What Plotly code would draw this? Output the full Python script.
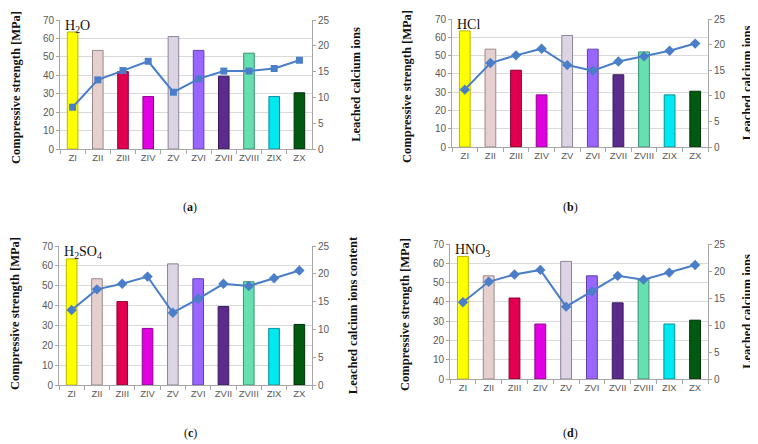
import plotly.graph_objects as go

categories = ["ZI", "ZII", "ZIII", "ZIV", "ZV", "ZVI", "ZVII", "ZVIII", "ZIX", "ZX"]
strength = [63.5, 53.5, 42, 28.5, 61, 53.5, 39.5, 52, 28.5, 30.5]
bar_colors = ["#FFFF00", "#E6CFCF", "#E0004F", "#E000E0", "#DCD4E4",
              "#9966FF", "#5B2C8C", "#66E0B0", "#00E8F0", "#005A10"]
bar_edges = ["#B8B800", "#9C8888", "#900030", "#900090", "#8C8494",
             "#6040B0", "#3A1A5C", "#3A9070", "#009098", "#003008"]

ions_h2o = [8.1, 13.4, 15.2, 17.0, 11.0, 13.6, 15.1, 15.1, 15.6, 17.2]
ions_hcl = [11.2, 16.4, 17.9, 19.2, 16.0, 14.9, 16.7, 17.7, 18.8, 20.2]
ions_h2so4 = [13.5, 17.2, 18.2, 19.5, 13.0, 15.5, 18.2, 17.8, 19.2, 20.6]
ions_hno3 = [14.2, 18.0, 19.35, 20.2, 13.4, 16.2, 19.1, 18.4, 19.7, 21.1]

# page body has an 8px margin; the figure is sized to fill the remaining window
OFF = 8
W, H = 758 - OFF, 444 - OFF


def px(x):
    return (x - OFF) / W


def py(y):
    return 1 - (y - OFF) / H


panels = [
    dict(ions=ions_h2o, label="H<sub>2</sub>O", sub="(<b>a</b>)", symbol="square",
         right_title="Leached calcium ions", rs=22,
         xd=[px(60), px(312)], yd=[py(149), py(20)],
         lt=(16, 88), st=(190, 207)),
    dict(ions=ions_hcl, label="HCl", sub="(<b>b</b>)", symbol="diamond",
         right_title="Leached calcium ions", rs=17,
         xd=[px(452), px(708)], yd=[py(147), py(19)],
         lt=(407, 87), st=(570, 207)),
    dict(ions=ions_h2so4, label="H<sub>2</sub>SO<sub>4</sub>", sub="(<b>c</b>)", symbol="diamond",
         right_title="Leached calcium ions content", rs=19,
         xd=[px(59), px(312)], yd=[py(385), py(246)],
         lt=(15, 314), st=(190, 433)),
    dict(ions=ions_hno3, label="HNO<sub>3</sub>", sub="(<b>d</b>)", symbol="diamond",
         right_title="Leached calcium ions", rs=17,
         xd=[px(450), px(708)], yd=[py(379), py(244)],
         lt=(405, 315), st=(570, 433)),
]

fig = go.Figure()
layout = dict(width=W, height=H, margin=dict(l=0, r=0, t=0, b=0, autoexpand=False),
              paper_bgcolor="white", plot_bgcolor="white", showlegend=False,
              template="none")
annotations = []
tickfont = dict(family="Liberation Sans, Arial, sans-serif", size=10, color="#595959")
xtickfont = dict(family="Liberation Sans, Arial, sans-serif", size=9.5, color="#595959")
titlefont = dict(family="Liberation Serif, Times New Roman, serif", size=12.5, color="#111111")

for i, p in enumerate(panels):
    xi = i + 1
    yl = 2 * i + 1
    yr = 2 * i + 2
    xname = "x" if xi == 1 else f"x{xi}"
    ylname = "y" if yl == 1 else f"y{yl}"
    yrname = f"y{yr}"
    fig.add_trace(go.Bar(x=categories, y=strength, xaxis=xname, yaxis=ylname,
                         marker=dict(color=bar_colors, line=dict(color=bar_edges, width=1)),
                         width=0.42))
    fig.add_trace(go.Scatter(x=categories, y=p["ions"], xaxis=xname, yaxis=yrname,
                             mode="lines+markers",
                             line=dict(color="#4A7EC8", width=2),
                             marker=dict(symbol=p["symbol"], size=8 if p["symbol"] == "diamond" else 7,
                                         color="#4A7EC8")))
    xkey = "xaxis" if xi == 1 else f"xaxis{xi}"
    ylkey = "yaxis" if yl == 1 else f"yaxis{yl}"
    yrkey = f"yaxis{yr}"
    layout[xkey] = dict(domain=p["xd"], anchor=ylname, type="category",
                        range=[-0.5, 9.5], showline=True, linecolor="#A6A6A6",
                        ticks="outside", tickson="boundaries", ticklen=4,
                        tickcolor="#A6A6A6", tickfont=xtickfont, tickangle=0,
                        showgrid=False, automargin=False)
    layout[ylkey] = dict(domain=p["yd"], anchor=xname, range=[0, 70], dtick=10,
                         showline=True, linecolor="#A6A6A6", ticks="outside",
                         ticklen=3, tickcolor="#A6A6A6", tickfont=tickfont,
                         gridcolor="#D9D9D9", zeroline=False, automargin=False)
    layout[yrkey] = dict(domain=p["yd"], anchor=xname, overlaying=ylname, side="right",
                         range=[0, 25], dtick=5, showline=True, linecolor="#A6A6A6",
                         ticks="outside", ticklen=3, tickcolor="#A6A6A6",
                         tickfont=tickfont, showgrid=False, zeroline=False,
                         automargin=False,
                         title=dict(text=f"<b>{p['right_title']}</b>", font=titlefont,
                                    standoff=p["rs"]))
    annotations.append(dict(text=p["label"], xref=f"{xname} domain", yref=f"{ylname} domain",
                            x=0.01, y=1.03, xanchor="left", yanchor="top", showarrow=False,
                            font=dict(family="Liberation Serif, Times New Roman, serif",
                                      size=14, color="#111111")))
    annotations.append(dict(text="<b>Compressive strength [MPa]</b>", xref="paper", yref="paper",
                            x=px(p["lt"][0]), y=py(p["lt"][1]), textangle=-90,
                            xanchor="center", yanchor="middle", showarrow=False, font=titlefont))
    annotations.append(dict(text=p["sub"], xref="paper", yref="paper",
                            x=px(p["st"][0]), y=py(p["st"][1]),
                            xanchor="center", yanchor="middle", showarrow=False,
                            font=dict(family="Liberation Serif, Times New Roman, serif",
                                      size=12, color="#111111")))

layout["annotations"] = annotations
fig.update_layout(**layout)
fig.write_html("out.html")
